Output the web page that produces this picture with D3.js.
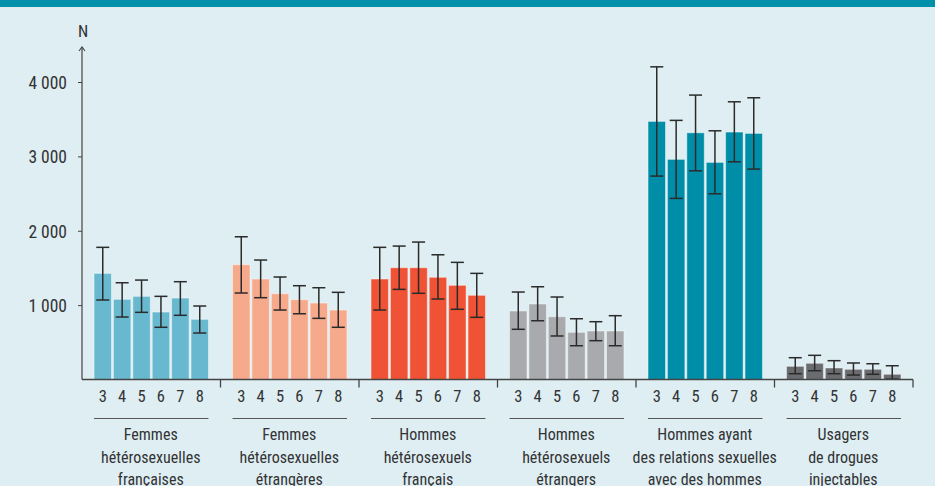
<!DOCTYPE html>
<html>
<head>
<meta charset="utf-8">
<script src="https://cdn.jsdelivr.net/npm/d3@7"></script>
<style>
  body { margin: 0; background: #deeef3; }
  svg { display: block; }
  text { font-family: "Liberation Sans Narrow", "Roboto Condensed", "DejaVu Sans Condensed", "Liberation Sans", sans-serif; fill: #333; }
</style>
</head>
<body>
<script>
// vague de l'enquete (axe secondaire)
var waves = ["3", "4", "5", "6", "7", "8"];

var groupLabels = [
  ["Femmes", "hétérosexuelles", "françaises"],
  ["Femmes", "hétérosexuelles", "étrangères"],
  ["Hommes", "hétérosexuels", "français"],
  ["Hommes", "hétérosexuels", "étrangers"],
  ["Hommes ayant", "des relations sexuelles", "avec des hommes"],
  ["Usagers", "de drogues", "injectables"]
];
var groupColors = ["#68b9d0", "#f6a98b", "#ef5234", "#a9aaad", "#008da8", "#6b6c6f"];

// estimations N par vague
var femmesFr = [1427, 1078, 1118, 907, 1095, 809];
var femmesEtr = [1543, 1351, 1153, 1073, 1028, 934];
var hommesFr = [1351, 1503, 1503, 1374, 1266, 1132];
var hommesEtr = [921, 1015, 844, 634, 652, 652];
var hsh = [3470, 2960, 3317, 2919, 3327, 3309];
var udi = [177, 218, 155, 137, 137, 70];

// intervalles (bas, haut)
var ciFemmesFr = [[1069, 1777], [840, 1301], [903, 1337], [702, 1118], [863, 1315], [625, 988]];
var ciFemmesEtr = [[1163, 1919], [1100, 1606], [934, 1378], [884, 1261], [822, 1234], [702, 1172]];
var ciHommesFr = [[934, 1777], [1212, 1794], [1159, 1848], [1082, 1677], [944, 1575], [836, 1427]];
var ciHommesEtr = [[675, 1176], [790, 1247], [585, 1109], [454, 817], [522, 777], [454, 858]];
var ciHsh = [[2735, 4204], [2435, 3484], [2806, 3824], [2497, 3344], [2927, 3734], [2829, 3788]];
var ciUdi = [[78, 293], [118, 325], [78, 253], [60, 222], [70, 212], [5, 185]];

var yTicks = [1000, 2000, 3000, 4000];

var series = [femmesFr, femmesEtr, hommesFr, hommesEtr, hsh, udi];
var cis = [ciFemmesFr, ciFemmesEtr, ciHommesFr, ciHommesEtr, ciHsh, ciUdi];

var data = series.map(function(vals, g) {
  return {
    id: g,
    label: groupLabels[g],
    color: groupColors[g],
    bars: vals.map(function(v, i) {
      return {wave: waves[i], value: v, lo: cis[g][i][0], hi: cis[g][i][1]};
    })
  };
});

var width = 935, height = 486;
var svg = d3.select("body").append("svg")
    .attr("width", width)
    .attr("height", height);

svg.append("rect").attr("width", width).attr("height", height).attr("fill", "#deeef3");
svg.append("rect").attr("width", width).attr("height", 7).attr("fill", "#0090a9");

var y = d3.scaleLinear().domain([0, 4000]).range([379.5, 82]);
var x0 = d3.scaleBand().domain(data.map(function(d) { return d.id; })).range([82, 913]);
var x1 = d3.scaleBand().domain(waves).range([0, x0.bandwidth()])
    .paddingInner(0.1).paddingOuter(0.62);

var fmt = d3.formatLocale({decimal: ",", thousands: " ", grouping: [3], currency: ["", " €"]}).format(",");

// axe y
var yAxis = svg.append("g")
    .attr("transform", "translate(82,0)")
    .call(d3.axisLeft(y).tickValues(yTicks).tickSize(4).tickPadding(11).tickFormat(fmt));
yAxis.select(".domain").remove();
yAxis.selectAll("line").attr("stroke", "#444");
yAxis.selectAll("text").style("font-size", "17.5px").attr("dy", "0.36em").attr("fill", "#333");

svg.append("line")
    .attr("x1", 82).attr("x2", 82)
    .attr("y1", y(0)).attr("y2", 47)
    .attr("stroke", "#444").attr("stroke-width", 1.2);
svg.append("path")
    .attr("d", "M79,51L82,47L85,51")
    .attr("fill", "none").attr("stroke", "#444").attr("stroke-width", 1.1);
svg.append("text")
    .attr("x", 83).attr("y", 37)
    .attr("text-anchor", "middle")
    .style("font-size", "16.5px")
    .text("N");

// barres
var groups = svg.selectAll("g.group")
    .data(data)
  .enter().append("g")
    .attr("class", "group")
    .attr("transform", function(d) { return "translate(" + x0(d.id) + ",0)"; });

groups.selectAll("rect")
    .data(function(d) { return d.bars.map(function(b) { b.color = d.color; return b; }); })
  .enter().append("rect")
    .attr("x", function(d) { return x1(d.wave); })
    .attr("y", function(d) { return y(d.value); })
    .attr("width", x1.bandwidth())
    .attr("height", function(d) { return y(0) - y(d.value); })
    .attr("fill", function(d) { return d.color; })
    .attr("stroke", "rgba(255,255,255,0.45)")
    .attr("stroke-width", 1);

// barres d'erreur
var err = groups.selectAll("g.err")
    .data(function(d) { return d.bars; })
  .enter().append("g")
    .attr("class", "err")
    .attr("stroke", "#2b2b2b")
    .attr("stroke-width", 1.5);
var cx = function(d) { return x1(d.wave) + x1.bandwidth() / 2; };
err.append("line")
    .attr("x1", cx).attr("x2", cx)
    .attr("y1", function(d) { return y(d.lo); })
    .attr("y2", function(d) { return y(d.hi); });
err.append("line")
    .attr("x1", function(d) { return cx(d) - 6.5; }).attr("x2", function(d) { return cx(d) + 6.5; })
    .attr("y1", function(d) { return y(d.hi); })
    .attr("y2", function(d) { return y(d.hi); });
err.append("line")
    .attr("x1", function(d) { return cx(d) - 6.5; }).attr("x2", function(d) { return cx(d) + 6.5; })
    .attr("y1", function(d) { return y(d.lo); })
    .attr("y2", function(d) { return y(d.lo); });

// axe x
svg.append("line")
    .attr("x1", 82).attr("x2", 913)
    .attr("y1", y(0)).attr("y2", y(0))
    .attr("stroke", "#444").attr("stroke-width", 1.4);
svg.selectAll("line.sep")
    .data(data.slice(1).map(function(d) { return x0(d.id); }).concat([913]))
  .enter().append("line")
    .attr("class", "sep")
    .attr("x1", function(d) { return d; }).attr("x2", function(d) { return d; })
    .attr("y1", y(0)).attr("y2", y(0) + 8)
    .attr("stroke", "#444").attr("stroke-width", 1.3);

groups.selectAll("text.wave")
    .data(function(d) { return d.bars; })
  .enter().append("text")
    .attr("class", "wave")
    .attr("x", cx)
    .attr("y", 401.5)
    .attr("text-anchor", "middle")
    .style("font-size", "16.5px")
    .text(function(d) { return d.wave; });

groups.append("line")
    .attr("x1", x1("3"))
    .attr("x2", x1("8") + x1.bandwidth())
    .attr("y1", 418.5).attr("y2", 418.5)
    .attr("stroke", "#555").attr("stroke-width", 1);

groups.each(function(d) {
  var t = d3.select(this).append("text")
      .attr("text-anchor", "middle")
      .style("font-size", "16px");
  d.label.forEach(function(line, i) {
    t.append("tspan")
        .attr("x", x0.bandwidth() / 2 - 0.5)
        .attr("y", 440 + i * 22.5)
        .text(line);
  });
});
</script>
</body>
</html>
